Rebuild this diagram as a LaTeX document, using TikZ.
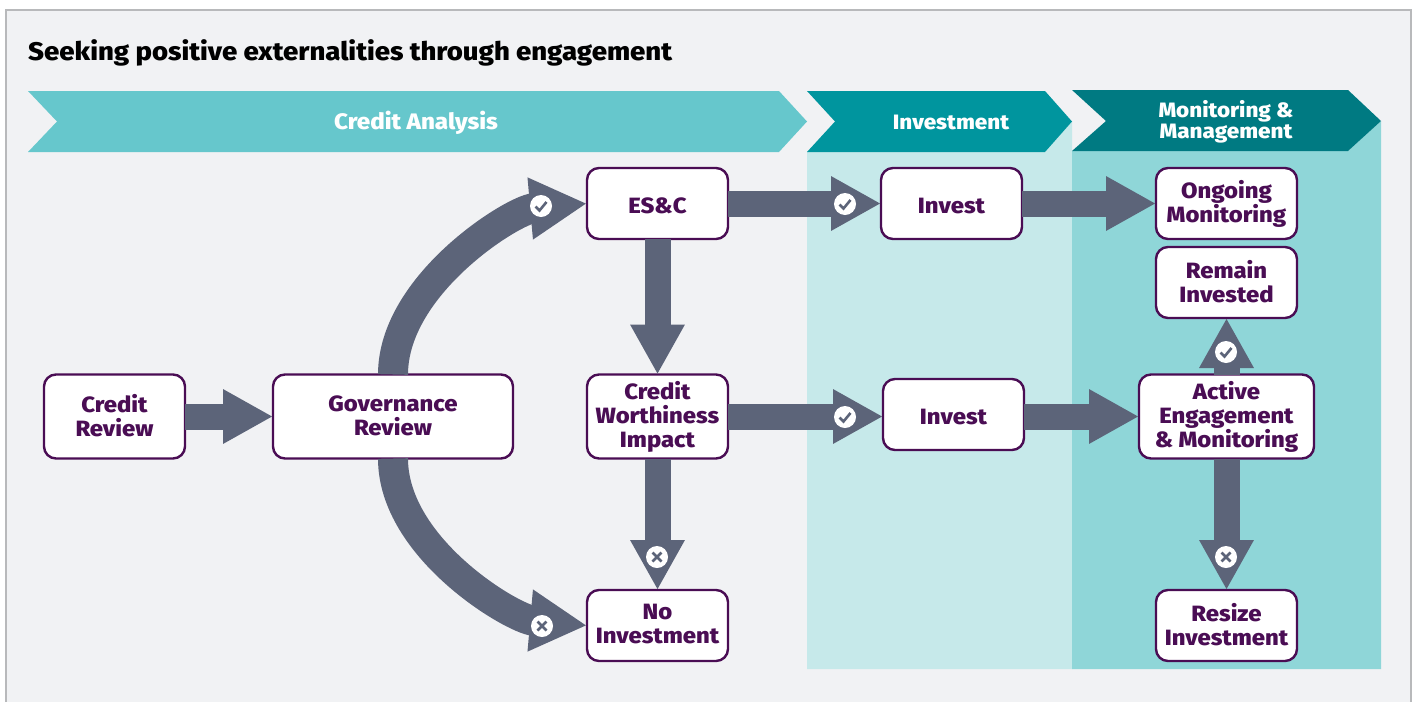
\documentclass[tikz,border=0pt]{standalone}
\usepackage{fontspec}
\setmainfont{Fira Sans}[BoldFont={Fira Sans ExtraBold}, BoldFeatures={FakeStretch=1.08}]
\usetikzlibrary{arrows.meta}
\definecolor{panelgray}{HTML}{F1F2F4}
\definecolor{framegray}{HTML}{B8B9BB}
\definecolor{flowgray}{HTML}{5C6479}
\definecolor{boxpurple}{HTML}{4A0D54}
\definecolor{lightteal}{HTML}{66C7CC}
\definecolor{midteal}{HTML}{00959E}
\definecolor{darkteal}{HTML}{007A82}
\definecolor{paleband}{HTML}{C6E9EA}
\definecolor{midband}{HTML}{8FD6D8}
\newcommand{\boxstrut}{\rule[-2.5pt]{0pt}{24pt}}
\tikzset{
  flowbox/.style={draw=boxpurple, line width=2.4pt, fill=white, rounded corners=12pt, text=boxpurple,
    font=\bfseries\fontsize{22.1}{24}\selectfont, align=center, minimum width=141pt, minimum height=71pt,
    inner sep=0pt, outer sep=0pt, execute at begin node=\boxstrut, execute at end node=\boxstrut},
  flowarrow/.style={draw=flowgray, line width=26pt, -{Triangle[length=50pt, width=51pt]}},
  curvearrow/.style={draw=flowgray, line width=30pt, -{Triangle[length=57pt, width=58pt]}},
  badge/.style={circle, fill=white, minimum size=22pt, inner sep=0pt},
  ribbon/.style={text=white, font=\bfseries\fontsize{22.4}{22}\selectfont, align=center},
  smallribbon/.style={text=white, font=\bfseries\fontsize{20.8}{21}\selectfont, align=center},
  tick/.pic={\draw[flowgray, line width=2.6pt] (-5.5,0.5) -- (-1.5,4.5) -- (5.5,-4);},
  cross/.pic={\draw[flowgray, line width=2.6pt] (-4.5,-4.5) -- (4.5,4.5) (-4.5,4.5) -- (4.5,-4.5);}
}
\begin{document}
\begin{tikzpicture}[x=1pt, y=-1pt]
\useasboundingbox (0,0) rectangle (1416,702);
% Frame
    \fill[white] (0,0) rectangle (1416,702);
    \fill[panelgray] (6,10) rectangle (1411,702);
    \draw[framegray, line width=1.2pt] (6,702) -- (6,10) -- (1411,10) -- (1411,702);
    \node[anchor=west, inner sep=0pt, font=\bfseries\fontsize{25.5}{28}\selectfont] (title) at (28,53) {Seeking positive externalities through engagement};
% Bands
    \fill[paleband] (807,152) -- (1045,152) -- (1072,121.5) -- (1072,669) -- (807,669) -- cycle;
    \fill[midband] (1072,151) -- (1348,151) -- (1381,121) -- (1381,669) -- (1072,669) -- cycle;
    \fill[lightteal] (28,91) -- (779,91) -- (807,121.5) -- (779,152) -- (28,152) -- (57,121.5) -- cycle;
    \fill[midteal] (807,91) -- (1045,91) -- (1072,121.5) -- (1045,152) -- (807,152) -- (835,121.5) -- cycle;
    \fill[darkteal] (1072,90) -- (1348,90) -- (1381,121) -- (1348,151) -- (1072,151) -- (1106,121) -- cycle;
    \node[ribbon] (analysis) at (416,122.5) {Credit Analysis};
    \node[smallribbon] (investment) at (951,122) {Investment};
    \node[smallribbon] (monitoring) at (1226,122) {Monitoring \&\\Management};
% Boxes
    \node[flowbox, minimum height=84pt] (credit) at (114.5,416.5) {Credit\\Review};
    \node[flowbox, minimum width=240pt, minimum height=84pt] (governance) at (393,416.5) {Governance\\Review};
    \node[flowbox] (esc) at (657.5,203.5) {ES\&C};
    \node[flowbox, minimum height=84pt] (worthiness) at (657.5,416.5) {Credit\\Worthiness\\Impact};
    \node[flowbox] (noinvest) at (657.5,625.5) {No\\Investment};
    \node[flowbox] (investa) at (951.5,203.5) {Invest};
    \node[flowbox] (investb) at (953.5,414.5) {Invest};
    \node[flowbox] (ongoing) at (1226.5,203.5) {Ongoing\\Monitoring};
    \node[flowbox] (remain) at (1226.5,282.5) {Remain\\Invested};
    \node[flowbox, minimum width=175pt, minimum height=84pt] (active) at (1226.5,416.5) {Active\\Engagement\\\& Monitoring};
    \node[flowbox] (resize) at (1226.5,625.5) {Resize\\Investment};
% Flows
    \draw[flowarrow] (credit) -- (governance);
    \draw[curvearrow] (governance.north) .. controls +(0,-90) and +(-74,6.5) .. (esc.west);
    \draw[curvearrow] (governance.south) .. controls +(0,90) and +(-74,-6.5) .. (noinvest.west);
    \draw[flowarrow] (esc) -- (investa);
    \draw[flowarrow] (esc) -- (worthiness);
    \draw[flowarrow] (worthiness) -- (noinvest);
    \draw[flowarrow] (worthiness.east) -- (worthiness -| investb.west);
    \draw[flowarrow] (investa) -- (ongoing);
    \draw[flowarrow] (investb.east |- worthiness) -- (active.west);
    \draw[flowarrow] (active) -- (remain);
    \draw[flowarrow] (active) -- (resize);
% Badges
    \node[badge] (okesc) at (541,206) {};
    \node[badge] (okinvesta) at (845,204) {};
    \node[badge] (okinvestb) at (845,417) {};
    \node[badge] (okremain) at (1226,352) {};
    \node[badge] (nogov) at (542,626) {};
    \node[badge] (noworth) at (657,557) {};
    \node[badge] (noactive) at (1226,557) {};
    \pic at (okesc) {tick};
    \pic at (okinvesta) {tick};
    \pic at (okinvestb) {tick};
    \pic at (okremain) {tick};
    \pic at (nogov) {cross};
    \pic at (noworth) {cross};
    \pic at (noactive) {cross};
\end{tikzpicture}
\end{document}
